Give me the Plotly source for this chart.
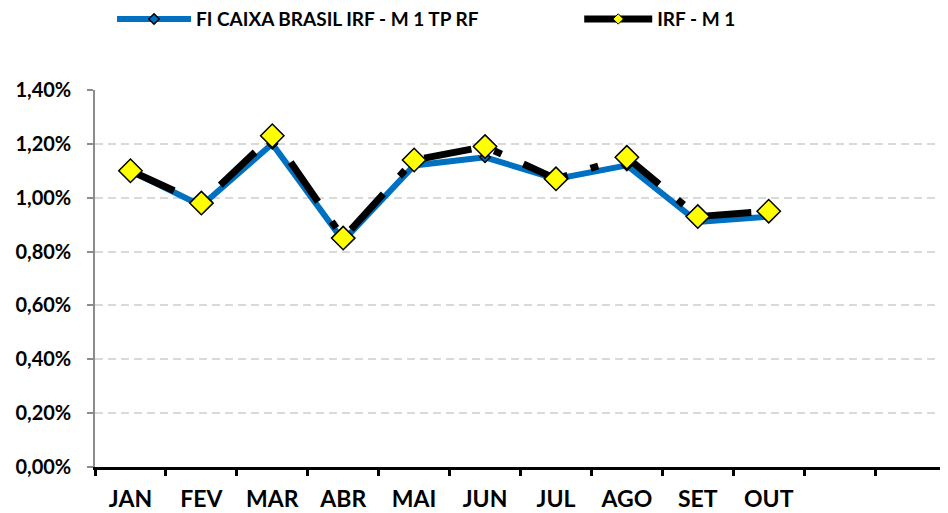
import plotly.graph_objects as go

months_all = ["JAN", "FEV", "MAR", "ABR", "MAI", "JUN", "JUL", "AGO", "SET", "OUT", "NOV", "DEZ"]
month_labels = ["JAN", "FEV", "MAR", "ABR", "MAI", "JUN", "JUL", "AGO", "SET", "OUT", "", ""]
months_data = months_all[:10]

fund_name = "FI CAIXA BRASIL IRF - M 1 TP RF"
fund_values = [1.10, 0.97, 1.20, 0.84, 1.12, 1.15, 1.07, 1.12, 0.91, 0.93]

bench_name = "IRF - M 1"
bench_values = [1.10, 0.98, 1.23, 0.85, 1.14, 1.19, 1.07, 1.15, 0.93, 0.95]

y_ticks = [0.0, 0.2, 0.4, 0.6, 0.8, 1.0, 1.2, 1.4]
y_tick_labels = ["0,00%", "0,20%", "0,40%", "0,60%", "0,80%", "1,00%", "1,20%", "1,40%"]

FONT = "Lato, 'Open Sans', sans-serif"
BLUE = "#0070C0"
DASH = "48px,24px,8px,24px"

fig = go.Figure()
fig.add_trace(go.Scatter(
    x=months_data, y=fund_values, name=fund_name, mode="lines+markers", showlegend=False,
    line=dict(color=BLUE, width=6),
    marker=dict(symbol="diamond", size=8, color=BLUE, line=dict(color="#000000", width=1.5)),
))
fig.add_trace(go.Scatter(
    x=months_data, y=bench_values, name=bench_name, mode="lines+markers", showlegend=False,
    line=dict(color="#000000", width=7, dash=DASH),
    marker=dict(symbol="diamond", size=18, color="#FFFF00", line=dict(color="#000000", width=1.5)),
))
# legend-only entries (smaller legend markers, as in the reference)
fig.add_trace(go.Scatter(
    x=[None], y=[None], name=fund_name, mode="lines+markers", legend="legend",
    line=dict(color=BLUE, width=6),
    marker=dict(symbol="diamond", size=8, color=BLUE, line=dict(color="#000000", width=1.5)),
))
fig.add_trace(go.Scatter(
    x=[None], y=[None], name=bench_name, mode="lines+markers", legend="legend2",
    line=dict(color="#000000", width=7),
    marker=dict(symbol="diamond", size=8, color="#FFFF00", line=dict(color="#000000", width=1)),
))

legend_font = dict(family=FONT, size=19, color="#000000", weight="bold")

# page body has an 8px margin: figure is drawn 8px right/down of the window origin
fig.update_layout(
    width=940, height=505,
    margin=dict(l=87, r=2, t=82, b=46, autoexpand=False),
    paper_bgcolor="white", plot_bgcolor="white",
    font=dict(family=FONT, color="#000000"),
    showlegend=True,
    legend=dict(
        orientation="h", x=0.020, xanchor="left", yref="container", y=0.978, yanchor="middle",
        font=legend_font, itemwidth=74, bgcolor="rgba(0,0,0,0)",
    ),
    legend2=dict(
        orientation="h", x=0.569, xanchor="left", yref="container", y=0.978, yanchor="middle",
        font=legend_font, itemwidth=68, bgcolor="rgba(0,0,0,0)",
    ),
    xaxis=dict(
        type="category", categoryorder="array", categoryarray=months_all,
        range=[-0.5, 11.5],
        tickmode="array", tickvals=months_all, ticktext=month_labels,
        tickson="boundaries", ticks="outside", ticklen=6, tickwidth=3, tickcolor="#000000",
        showline=True, linecolor="#000000", linewidth=3,
        showgrid=False, zeroline=False,
        tickfont=dict(family=FONT, size=23, color="#000000", weight="bold"),
        ticklabelstandoff=9,
    ),
    yaxis=dict(
        range=[0, 1.4], tickmode="array", tickvals=y_ticks, ticktext=y_tick_labels,
        ticks="outside", ticklen=6, tickwidth=1.5, tickcolor="#8C8C8C",
        showline=True, linecolor="#8C8C8C", linewidth=1.5,
        showgrid=True, gridcolor="#D9D9D9", gridwidth=1.5, griddash="8px,5px",
        zeroline=False,
        tickfont=dict(family=FONT, size=20, color="#000000", weight="bold"),
        ticklabelstandoff=12,
    ),
)

fig.write_html("out.html")
